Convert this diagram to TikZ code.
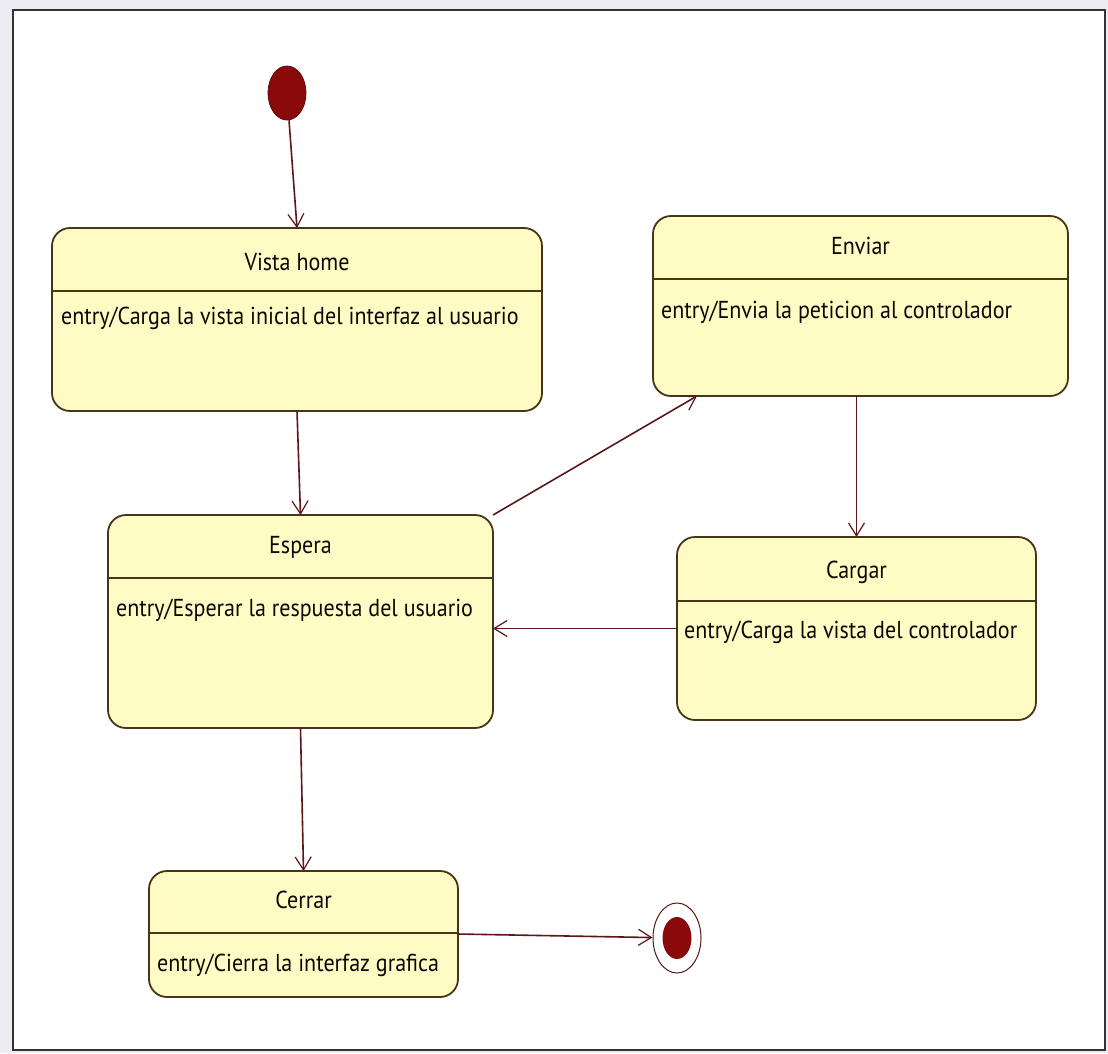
\documentclass[tikz,border=0pt]{standalone}
\usepackage{fontspec}
\setmainfont{PT Sans}[FakeStretch=0.9]
\usetikzlibrary{arrows.meta,shapes.geometric}

\definecolor{boxfill}{RGB}{255,251,196}
\definecolor{boxedge}{RGB}{72,52,22}
\definecolor{transline}{RGB}{92,24,24}
\definecolor{dotred}{RGB}{138,10,12}
\definecolor{outside}{RGB}{236,236,242}

\tikzset{
  statebox/.style={draw=boxedge, fill=boxfill, line width=1.8pt, rounded corners=18pt,
    inner sep=0pt, outer sep=0pt},
  divider/.style={draw=boxedge, line width=1.8pt},
  statename/.style={inner sep=0pt, text=black!85!boxedge, font=\fontsize{24.5}{28}\selectfont},
  entrytext/.style={statename, anchor=west},
  trans/.style={draw=transline, line width=1.6pt, -{Straight Barb[length=13pt,width=16pt,line width=1.2pt]}},
}

\begin{document}
\begin{tikzpicture}[x=1pt,y=-1pt]
        \useasboundingbox (0,0) rectangle (1108,1053);
        \fill[outside] (0,0) rectangle (1108,1053);
        \draw[fill=white, draw=black!80, line width=2pt] (13,10) rectangle (1105,1050);

        % Estados
        \node[ellipse, fill=dotred, draw=dotred!70!black, line width=0.8pt,
              minimum width=38, minimum height=54, inner sep=0pt] (init) at (287,93) {};

        \node[statebox, minimum width=490, minimum height=183] (vista) at (297,319.5) {};
        \draw[divider] (vista.west |- 0,291) -- (vista.east |- 0,291);
        \node[statename] (vistaname) at (297,262) {Vista home};
        \node[entrytext] (vistaentry) at (61,318) {entry/Carga la vista inicial del interfaz al usuario};

        \node[statebox, minimum width=415, minimum height=180] (enviar) at (860.5,306) {};
        \draw[divider] (enviar.west |- 0,279) -- (enviar.east |- 0,279);
        \node[statename] (enviarname) at (860.5,246) {Enviar};
        \node[entrytext] (enviarentry) at (661,312) {entry/Envia la peticion al controlador};

        \node[statebox, minimum width=385, minimum height=213] (espera) at (300.5,621.5) {};
        \draw[divider] (espera.west |- 0,578) -- (espera.east |- 0,578);
        \node[statename] (esperaname) at (300.5,547) {Espera};
        \node[entrytext] (esperaentry) at (116,610) {entry/Esperar la respuesta del usuario};

        \node[statebox, minimum width=359, minimum height=183] (cargar) at (856.5,628.5) {};
        \draw[divider] (cargar.west |- 0,601) -- (cargar.east |- 0,601);
        \node[statename] (cargarname) at (856.5,572) {Cargar};
        \node[entrytext] (cargarentry) at (684,632) {entry/Carga la vista del controlador};

        \node[statebox, minimum width=309, minimum height=126] (cerrar) at (303.5,934) {};
        \draw[divider] (cerrar.west |- 0,933) -- (cerrar.east |- 0,933);
        \node[statename] (cerrarname) at (303.5,900) {Cerrar};
        \node[entrytext] (cerrarentry) at (157,965) {entry/Cierra la interfaz grafica};

        \node[ellipse, draw=transline, line width=1pt, fill=white,
              minimum width=48, minimum height=70, inner sep=0pt] (final) at (677,938) {};
        \node[ellipse, fill=dotred, minimum width=29, minimum height=42, inner sep=0pt] (finaldot) at (final) {};

        % Transiciones
        \draw[trans] (init) -- (vista.north);
        \draw[trans] (vista.south) -- (espera.north);
        \draw[trans] (espera.north east) -- ([xshift=44pt]enviar.south west);
        \draw[trans] (cargar.north |- enviar.south) -- (cargar.north);
        \draw[trans] (cargar.west) -- (cargar.west -| espera.east);
        \draw[trans] (espera.south) -- (cerrar.north);
        \draw[trans] (cerrar.east) -- (final);
    \end{tikzpicture}
\end{document}
